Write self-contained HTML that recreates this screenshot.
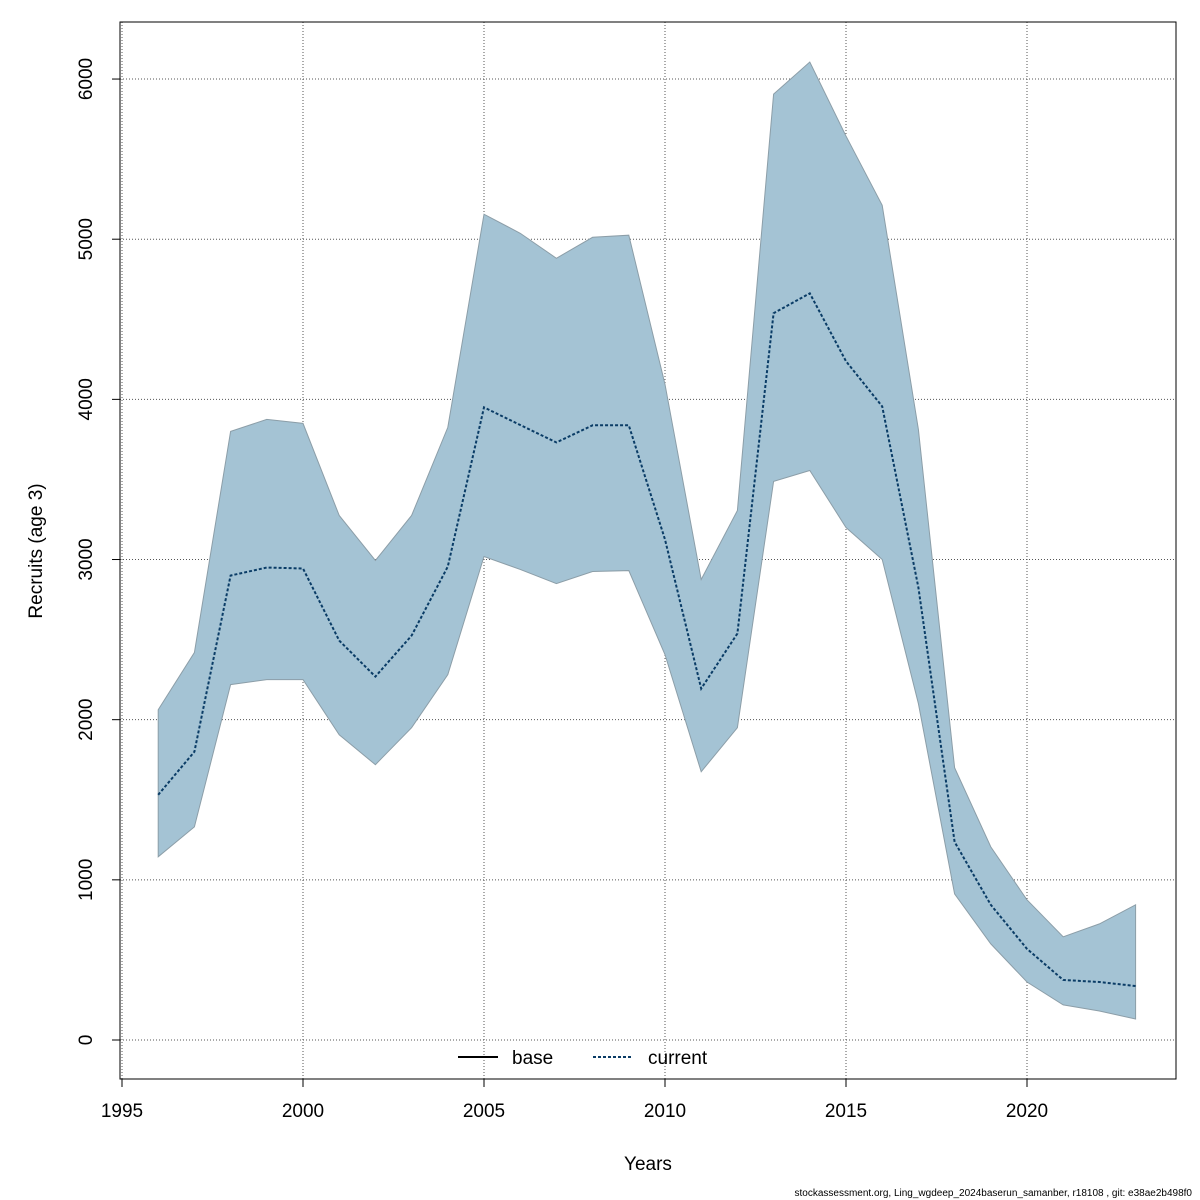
<!DOCTYPE html>
<html><head><meta charset="utf-8"><style>
body{margin:0;background:#fff;}
svg{display:block;font-family:"Liberation Sans",sans-serif;}
</style></head><body>
<svg id="chart" width="1200" height="1200">
<g id="grid"></g>
<path id="band" fill="#a4c3d4" stroke="#8c9ea8" stroke-width="1"></path>
<path id="line" fill="none" stroke="#0a3c66" stroke-width="2" stroke-dasharray="3,2"></path>
<rect x="120" y="22" width="1056" height="1057" fill="none" stroke="#000" stroke-width="1"></rect>
<g id="xticks"></g>
<g id="yticks"></g>
<text x="648" y="1170" text-anchor="middle" font-size="19">Years</text>
<text transform="translate(42,551) rotate(-90)" text-anchor="middle" font-size="19">Recruits (age 3)</text>
<g>
<line x1="458" y1="1057" x2="498" y2="1057" stroke="#000" stroke-width="2"></line>
<text x="512" y="1064" font-size="19">base</text>
<line x1="593" y1="1057" x2="633" y2="1057" stroke="#0a3c66" stroke-width="2" stroke-dasharray="3,2"></line>
<text x="648" y="1064" font-size="19">current</text>
</g>
<text x="1192" y="1196" text-anchor="end" font-size="10">stockassessment.org, Ling_wgdeep_2024baserun_samanber, r18108 , git: e38ae2b498f0</text>
</svg>
<script>
const years=[1996,1997,1998,1999,2000,2001,2002,2003,2004,2005,2006,2007,2008,2009,2010,2011,2012,2013,2014,2015,2016,2017,2018,2019,2020,2021,2022,2023];
const median=[1531,1800,2900,2950,2944,2494,2269,2525,2956,3950,3840,3731,3838,3838,3125,2194,2538,4538,4662,4238,3956,2825,1237,844,569,375,362,337];
const upper=[2062,2419,3800,3875,3850,3275,2994,3275,3825,5156,5037,4881,5012,5025,4094,2875,3306,5906,6106,5644,5212,3812,1700,1206,875,644,725,844];
const lower=[1144,1331,2219,2250,2250,1906,1719,1950,2281,3019,2938,2850,2925,2931,2406,1675,1950,3488,3556,3200,3000,2100,912,600,362,219,181,131];
const xTicks=[1995,2000,2005,2010,2015,2020];
const yTicks=[0,1000,2000,3000,4000,5000,6000];
const X=y=>122+(y-1995)*36.2;
const Y=v=>1040-v*0.16016;
const ns="http://www.w3.org/2000/svg";
const g=document.getElementById('grid'),xt=document.getElementById('xticks'),yt=document.getElementById('yticks');
function mk(tag,attrs,parent){const e=document.createElementNS(ns,tag);for(const k in attrs)e.setAttribute(k,attrs[k]);parent.appendChild(e);return e;}
xTicks.forEach(t=>{
 const l=mk('line',{x1:X(t),x2:X(t),y1:22,y2:1079,stroke:'#555','stroke-dasharray':'1,2'},g);
 
 
 const tk=mk('line',{x1:X(t),x2:X(t),y1:1079,y2:1087,stroke:'#000'},xt);
 
 
 const tx=mk('text',{x:X(t),y:1117,'text-anchor':'middle','font-size':19},xt);
 tx.textContent=t;
 
 
});
mk('line',{x1:X(1995),x2:X(2020),y1:1079,y2:1079,stroke:'#000'},xt);
yTicks.forEach(t=>{
 const l=mk('line',{x1:120,x2:1176,y1:Y(t),y2:Y(t),stroke:'#555','stroke-dasharray':'1,2'},g);
 
 
 const tk=mk('line',{x1:112,x2:120,y1:Y(t),y2:Y(t),stroke:'#000'},yt);
 
 
 const tx=mk('text',{transform:`translate(92,${Y(t)}) rotate(-90)`,'text-anchor':'middle','font-size':19},yt);
 tx.textContent=t;
 
 
});
mk('line',{x1:120,x2:120,y1:Y(0),y2:Y(6000),stroke:'#000'},yt);
let d='M'+years.map((y,i)=>X(y)+','+Y(upper[i])).join('L');
d+='L'+years.map((y,i)=>X(y)+','+Y(lower[i])).reverse().join('L')+'Z';
document.getElementById('band').setAttribute('d',d);
document.getElementById('line').setAttribute('d','M'+years.map((y,i)=>X(y)+','+Y(median[i])).join('L'));
</script>
</body></html>
